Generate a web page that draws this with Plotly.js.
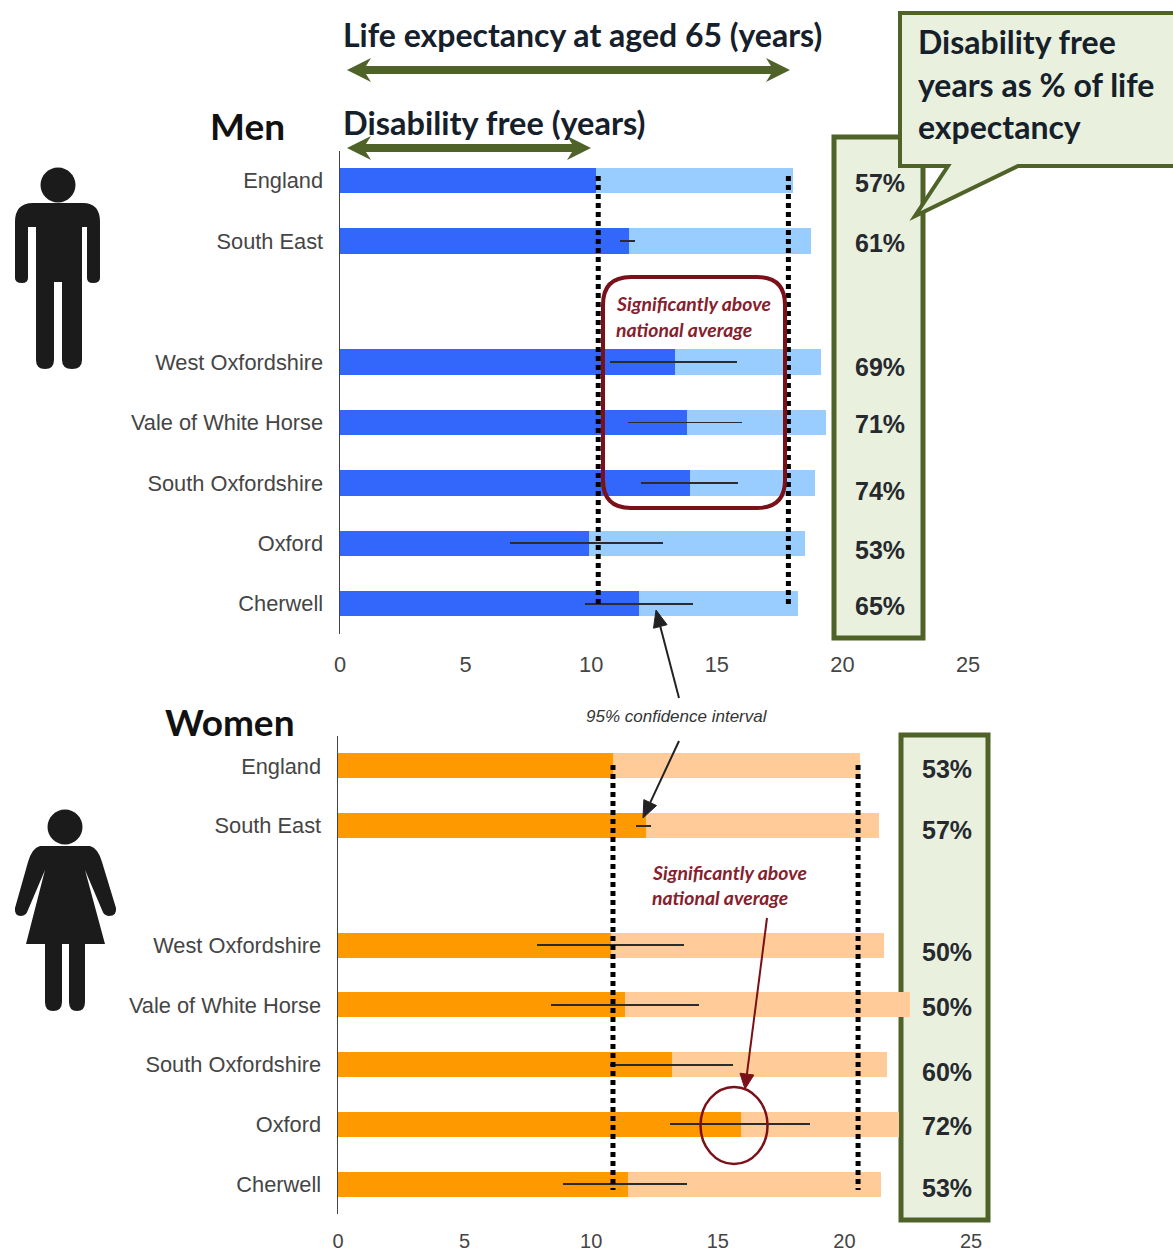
<!DOCTYPE html>
<html><head><meta charset="utf-8">
<script src="https://cdn.plot.ly/plotly-3.0.1.min.js"></script>
<style>html,body{margin:0;padding:0;background:#fff}#c{width:1173px;height:1253px}</style>
</head><body><div id="c"></div>
<script>
// ---- data ----
const slots = ['England','South East',' ','West Oxfordshire','Vale of White Horse','South Oxfordshire','Oxford','Cherwell'];
const areas = ['England','South East','West Oxfordshire','Vale of White Horse','South Oxfordshire','Oxford','Cherwell'];
const menFree = [10.2,11.5,13.35,13.8,13.95,9.9,11.9];
const menLife = [18.05,18.75,19.15,19.35,18.9,18.5,18.25];
const menLow  = [null,11.15,10.75,11.45,12.0,6.75,9.75];
const menHigh = [null,11.75,15.8,16.0,15.85,12.85,14.05];
const menPct  = ['57%','61%','69%','71%','74%','53%','65%'];
const womenFree = [10.85,12.15,10.8,11.35,13.2,15.9,11.45];
const womenLife = [20.6,21.35,21.55,22.6,21.7,22.15,21.45];
const womenLow  = [null,11.75,7.85,8.4,10.75,13.1,8.9];
const womenHigh = [null,12.35,13.65,14.25,15.6,18.65,13.8];
const womenPct  = ['53%','57%','50%','50%','60%','72%','53%'];
const menRefs = [10.28,17.85];
const womenRefs = [10.86,20.54];
const xTicks = [0,5,10,15,20,25];
const calloutLines = ['Disability free','years as % of life','expectancy'];
const menPctShift = [-2,-2,-5,-2,-8,-7,-2];
const womenPctShift = [-3,-4,-7,-2,-7,-2,-4];

// ---- helpers: reference-pixel decoration to paper coordinates ----
const W=1173,H=1253;
const fx=x=>x/W, fy=y=>1-y/H;
function P(s){let i=0;return s.replace(/-?\d+(\.\d+)?/g,m=>{const v=+m;const r=(i++%2===0)?fx(v):fy(v);return r.toFixed(6);});}
const GREEN='#4f6228',PALE='#e9f0dd',RED='#7a1018',TEXTRED='#86202c',INK='#1b1b1b';
function pathShape(d,fill,line,width,layer){return {type:'path',xref:'paper',yref:'paper',path:P(d),fillcolor:fill||'rgba(0,0,0,0)',line:{color:line||'rgba(0,0,0,0)',width:width||0},layer:layer||'above'};}
function rectD(a,b,c,d){return `M${a} ${b} L${c} ${b} L${c} ${d} L${a} ${d} Z`;}
function circleD(cx,cy,rx,ry){const k=.5523;return `M${cx-rx} ${cy} C${cx-rx} ${cy-k*ry} ${cx-k*rx} ${cy-ry} ${cx} ${cy-ry} C${cx+k*rx} ${cy-ry} ${cx+rx} ${cy-k*ry} ${cx+rx} ${cy} C${cx+rx} ${cy+k*ry} ${cx+k*rx} ${cy+ry} ${cx} ${cy+ry} C${cx-k*rx} ${cy+ry} ${cx-rx} ${cy+k*ry} ${cx-rx} ${cy} Z`;}
function roundD(a,b,c,d,r){return `M${a+r} ${b} L${c-r} ${b} Q${c} ${b} ${c} ${b+r} L${c} ${d-r} Q${c} ${d} ${c-r} ${d} L${a+r} ${d} Q${a} ${d} ${a} ${d-r} L${a} ${b+r} Q${a} ${b} ${a+r} ${b} Z`;}
function dbl(a,b,y){const t=4,hl=24,hh=12;return `M${a} ${y} L${a+hl} ${y-hh} L${a+hl-5} ${y-t} L${b-hl+5} ${y-t} L${b-hl} ${y-hh} L${b} ${y} L${b-hl} ${y+hh} L${b-hl+5} ${y+t} L${a+hl-5} ${y+t} L${a+hl} ${y+hh} Z`;}
function arrow(x0,y0,x1,y1,col,w,hl,hw){
  const L=Math.hypot(x1-x0,y1-y0),ux=(x1-x0)/L,uy=(y1-y0)/L,bx=x1-ux*hl,by=y1-uy*hl;
  return [pathShape(`M${x0} ${y0} L${bx} ${by}`,null,col,w),
          pathShape(`M${x1} ${y1} L${bx-uy*hw} ${by+ux*hw} L${bx+uy*hw} ${by-ux*hw} Z`,col,col,1)];
}

// ---- traces ----
function pair(life,free,lo,hi,cLife,cFree,xa,ya){
  return [
   {type:'bar',orientation:'h',y:areas,x:life,width:0.42,marker:{color:cLife,line:{width:0}},xaxis:xa,yaxis:ya,hoverinfo:'skip'},
   {type:'bar',orientation:'h',y:areas,x:free,width:0.42,marker:{color:cFree,line:{width:0}},xaxis:xa,yaxis:ya,hoverinfo:'skip',
    error_x:{type:'data',symmetric:false,
      array:hi.map((h,i)=>h===null?0:h-free[i]),arrayminus:lo.map((l,i)=>l===null?0:free[i]-l),
      color:'#2b2b30',thickness:1.8,width:0}}
  ];
}
const data=[...pair(menLife,menFree,menLow,menHigh,'#99ccff','#3366fb','x','y'),
            ...pair(womenLife,womenFree,womenLow,womenHigh,'#ffcc99','#ff9900','x2','y2')];

// ---- shapes ----
const man='M15 222 Q15 203 33 203 L83 203 Q100 203 100 222 L100 278 Q100 283 93 283 Q87 283 87 278 L87 227 L82 227 L82 360 Q82 369 72 369 Q62 369 62 360 L62 282 L54 282 L54 360 Q54 369 45 369 Q36 369 36 360 L36 227 L28 227 L28 278 Q28 283 22 283 Q15 283 15 278 Z';
const woman='M40 846 L90 846 Q98 848 102 862 L116 908 Q117 916 109 916 Q104 916 102 910 L85 870 L105 944 L85 944 L85 1002 Q85 1011 77 1011 Q69 1011 69 1002 L69 944 L62 944 L62 1002 Q62 1011 53 1011 Q45 1011 45 1002 L45 944 L26 944 L45 870 L28 910 Q26 916 21 916 Q14 916 15 908 L28 862 Q32 848 40 846 Z';
const refLine=(x,xr,y0,y1)=>({type:'line',xref:xr,yref:'paper',x0:x,x1:x,y0:fy(y0),y1:fy(y1),line:{color:'#000',width:5,dash:'5px,4px'},layer:'above'});
const shapes=[
  pathShape(rectD(834,137,923,638),PALE,GREEN,5,'below'),
  pathShape(rectD(901,735,988,1220),PALE,GREEN,5,'below'),
  pathShape(man,INK,null,0),
  pathShape(woman,INK,null,0),
  pathShape(circleD(58,185,17.5,17.5),INK,null,0),
  pathShape(circleD(65,827,17.5,17.5),INK,null,0),
  pathShape(dbl(347,790,70),GREEN,null,0),
  pathShape(dbl(347,591,148),GREEN,null,0),
  pathShape('M900 13 L1180 13 L1180 166 L1018 166 L915 216 L948 166 L900 166 Z',PALE,GREEN,4),
  ...menRefs.map(v=>refLine(v,'x',176,606)),
  ...womenRefs.map(v=>refLine(v,'x2',765,1190)),
  pathShape(roundD(603,277,785,508,28),null,RED,4),
  pathShape(circleD(734,1125.5,33.5,38.5),null,RED,2.5),
  ...arrow(679,698,656,610,'#222',2,17,7),
  ...arrow(679,741,643,818,'#222',2,17,7),
  ...arrow(767,918,745,1089,RED,2,15,7),
];

// ---- text ----
const LATO='Lato, Carlito, sans-serif';
const txt=(x,y,t,size,o={})=>({xref:'paper',yref:'paper',x:fx(x),y:fy(y),text:t,showarrow:false,xanchor:o.a||'left',yanchor:'middle',
  font:{family:o.f||LATO,size,color:o.c||'#16202a',weight:o.w||700,style:o.s||'normal'}});
const annotations=[
  txt(341,34,'Life expectancy at aged 65 (years)',32),
  txt(341,123,'Disability free (years)',32.5),
  txt(247,125,'Men',37,{a:'center',c:'#111'}),
  txt(230,721,'Women',37,{a:'center',c:'#111'}),
  ...calloutLines.map((t,i)=>txt(916,42+42*i,t,32)),
  txt(614,303,'Significantly above',19.4,{s:'italic',c:TEXTRED}),
  txt(614,329,'national average',19.4,{s:'italic',c:TEXTRED}),
  txt(650,872,'Significantly above',19.4,{s:'italic',c:TEXTRED}),
  txt(650,897,'national average',19.4,{s:'italic',c:TEXTRED}),
  txt(584,716,'95% confidence interval',17,{f:'Liberation Sans, Arial, sans-serif',s:'italic',w:400,c:'#333'}),
  ...menPct.map((t,i)=>({xref:'x',yref:'y',x:21.5,y:areas[i],yshift:menPctShift[i],text:t,showarrow:false,
     font:{family:'Liberation Sans, Arial, sans-serif',size:25,weight:700,color:'#26292e'}})),
  ...womenPct.map((t,i)=>({xref:'x2',yref:'y2',x:24.05,y:areas[i],yshift:womenPctShift[i],text:t,showarrow:false,
     font:{family:'Liberation Sans, Arial, sans-serif',size:25,weight:700,color:'#26292e'}})),
];

const tickFont={family:'Liberation Sans, Arial, sans-serif',size:21.8,color:'#454545'};
const xa=(dom,anch,size,off)=>({domain:dom,anchor:anch,range:[0,25],tickmode:'array',tickvals:xTicks,ticktext:xTicks.map(String),showgrid:false,zeroline:false,showline:false,ticks:'',tickfont:{...tickFont,size},ticklabelstandoff:off,fixedrange:true});
const ya=(dom,anch)=>({domain:dom,anchor:anch,type:'category',categoryorder:'array',categoryarray:slots,tickmode:'array',tickvals:slots,ticktext:slots,range:[7.5,-0.5],showgrid:false,zeroline:false,showline:true,linecolor:'#444',linewidth:1.5,ticks:'',tickfont:tickFont,ticklabelstandoff:11,fixedrange:true});

const layout={
  width:W,height:H,margin:{l:0,r:0,t:0,b:0,pad:0},paper_bgcolor:'#fff',plot_bgcolor:'rgba(0,0,0,0)',
  barmode:'overlay',bargap:0,showlegend:false,
  xaxis:xa([fx(340),fx(968)],'y',21.8,15),
  yaxis:ya([fy(634),fy(150.5)],'x'),
  xaxis2:xa([fx(338),fx(971)],'y2',20,13),
  yaxis2:ya([fy(1214),fy(736)],'x2'),
  shapes,annotations
};
Plotly.newPlot('c',data,layout,{displayModeBar:false,staticPlot:true});
</script></body></html>
